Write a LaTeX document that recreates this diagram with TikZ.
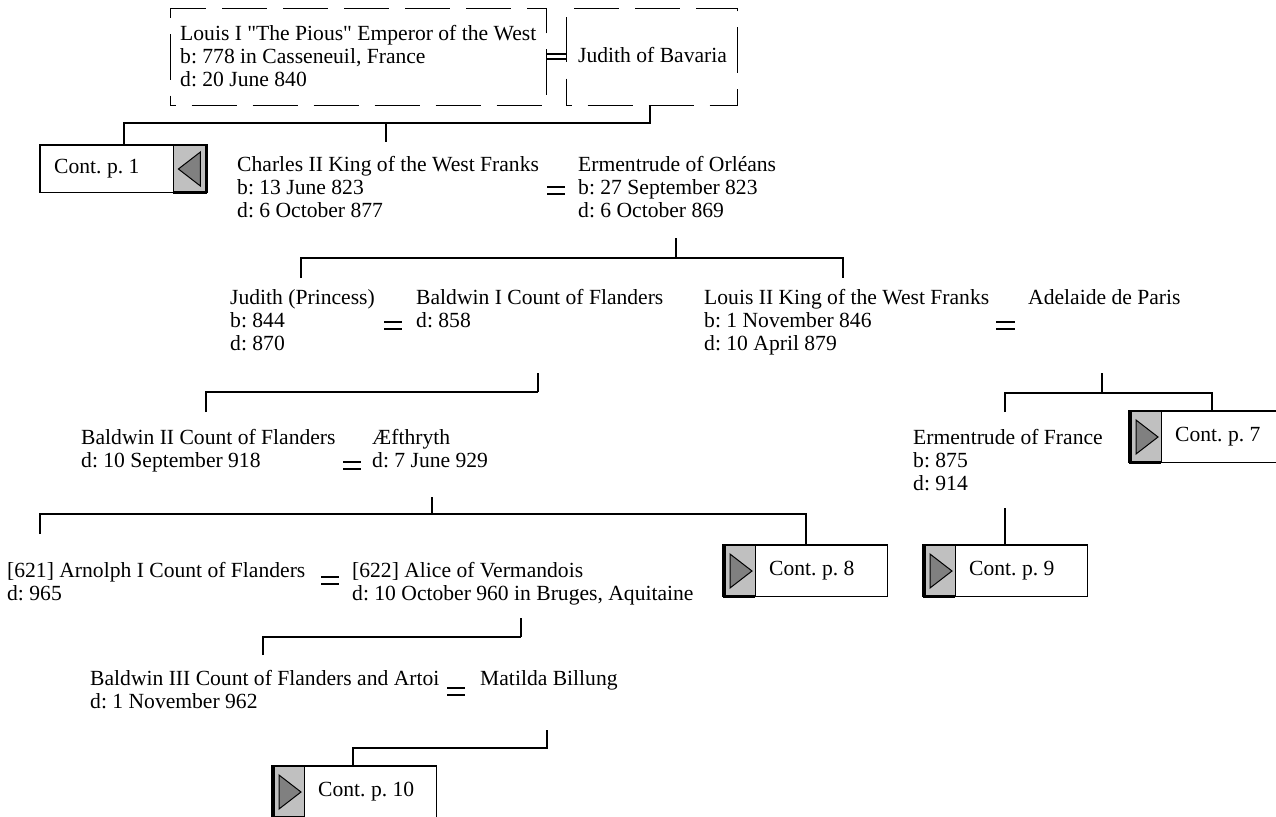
\documentclass[tikz,border=0pt]{standalone}
\usepackage{fontspec}
\setmainfont{Liberation Serif}
\usetikzlibrary{calc}
\newcommand\famtext{\fontsize{21.6}{23}\selectfont\frenchspacing}
\definecolor{greyfill}{HTML}{C0C0C0}
\definecolor{trifill}{HTML}{808080}
\tikzset{
  person/.style={anchor=north west, inner sep=0pt, align=left, font=\famtext},
  single/.style={anchor=base west, inner sep=0pt, font=\famtext},
  conn/.style={line width=1.6pt},
  marr/.style={line width=1.6pt},
  dashbox/.style={draw, line width=1pt, dash pattern=on 45pt off 16pt, dash phase=40pt},
  frame/.style={line width=1.2pt},
  tri/.style={fill=trifill, draw=black, line width=1pt, line join=miter},
}
% continuation box, grey part on the left, triangle pointing right
\newcommand\contR[4]{%
  \node[anchor=north west, minimum width=164pt, minimum height=51pt, inner sep=0pt] (#1) at (#2,#3) {};
  \fill[greyfill] (#1.north west) rectangle ($(#1.south west)+(32,0)$);
  \draw[frame] (#1.north west) rectangle (#1.south east);
  \draw[line width=1pt] ($(#1.north west)+(32,0)$) -- ($(#1.south west)+(32,0)$);
  \draw[line width=3pt] ($(#1.north west)+(1,0)$) -- ($(#1.south west)+(1,0)$);
  \draw[line width=2.2pt] (#1.south west) -- ($(#1.south west)+(32,0)$);
  \draw[tri] ($(#1.north west)+(7,9)$) -- ($(#1.north west)+(7,43)$) -- ($(#1.north west)+(29,26)$) -- cycle;
  \node[anchor=west, inner sep=0pt, font=\famtext] at ($(#1.west)+(46,0)$) {#4};
}
% continuation box, grey part on the right, triangle pointing left
\newcommand\contL[4]{%
  \node[anchor=north west, minimum width=167pt, minimum height=47pt, inner sep=0pt] (#1) at (#2,#3) {};
  \fill[greyfill] ($(#1.north east)+(-34,0)$) rectangle (#1.south east);
  \draw[frame] (#1.north west) rectangle (#1.south east);
  \draw[line width=1pt] ($(#1.north east)+(-34,0)$) -- ($(#1.south east)+(-34,0)$);
  \draw[line width=3pt] ($(#1.north east)+(-1,0)$) -- ($(#1.south east)+(-1,0)$);
  \draw[line width=2.2pt] ($(#1.south east)+(-34,0)$) -- (#1.south east);
  \draw[tri] ($(#1.north east)+(-7,7)$) -- ($(#1.north east)+(-7,41)$) -- ($(#1.north east)+(-29,24)$) -- cycle;
  \node[anchor=west, inner sep=0pt, font=\famtext] at ($(#1.west)+(14,0)$) {#4};
}
\newcommand\marriage[4]{%
  \draw[marr] (#1,#3) -- (#2,#3);
  \draw[marr] (#1,#4) -- (#2,#4);
}
\begin{document}
\begin{tikzpicture}[x=1pt,y=-1pt]
\useasboundingbox (0,0) rectangle (1276,816);
\clip (0,0) rectangle (1276,816);

% ---- generation 1
\node[dashbox, anchor=north west, minimum width=376pt, minimum height=97pt] (b1) at (170,8) {};
\node[dashbox, anchor=north west, minimum width=171pt, minimum height=97pt] (b2) at (566,8) {};
\node[person] (louis1) at (180,25) {Louis I \textquotedbl The Pious\textquotedbl{} Emperor of the West\\b: 778 in Casseneuil, France\\d: 20 June 840};
\node[single] (judithB) at (578,63) {Judith of Bavaria};
\draw[line width=1.2pt] (546,54) -- (566,54);
\draw[line width=1.2pt] (546,59) -- (566,59);

% ---- generation 2
\contL{c1}{40}{145}{Cont. p. 1}
\node[person] (charles) at (237,156) {Charles II King of the West Franks\\b: 13 June 823\\d: 6 October 877};
\node[person] (ermO) at (578,156) {Ermentrude of Orléans\\b: 27 September 823\\d: 6 October 869};
\marriage{547}{565}{187}{194}

\coordinate (g1) at (650,123);
\draw[conn] (b2.south -| g1) -- (g1) -- (g1 -| c1.north) -- (c1.north);
\coordinate (g1c) at (386,123);
\draw[conn] (g1c) -- (386,142);

% ---- generation 3
\node[person] (judithP) at (230,289) {Judith (Princess)\\b: 844\\d: 870};
\node[person] (baldwin1) at (416,289) {Baldwin I Count of Flanders\\d: 858};
\marriage{384}{402}{322}{329}
\node[person] (louis2) at (704,289) {Louis II King of the West Franks\\b: 1 November 846\\d: 10 April 879};
\node[person] (adelaide) at (1028,289) {Adelaide de Paris};
\marriage{996}{1015}{322}{329}

\coordinate (g2) at (676,258);
\draw[conn] (676,238) -- (g2);
\draw[conn] (301,278) -- (301,258) -- (843,258) -- (843,278);

% ---- generation 4
\node[person] (baldwin2) at (81,429) {Baldwin II Count of Flanders\\d: 10 September 918};
\node[person] (aef) at (372,429) {Æfthryth\\d: 7 June 929};
\marriage{343}{361}{462}{469}
\node[person] (ermF) at (913,429) {Ermentrude of France\\b: 875\\d: 914};
\contR{c7}{1129}{411}{Cont. p. 7}

\draw[conn] (538,373) -- (538,392);
\draw[conn] (206,412) -- (206,392) -- (538,392);
\coordinate (g3) at (1102,393);
\draw[conn] (1102,373) -- (g3);
\coordinate (g3r) at (1212,393);
\draw[conn] (1005,412) -- (1005,393) -- (g3r) -- (g3r |- c7.north);

% ---- generation 5
\node[person] (arnolph) at (7,562) {[621] Arnolph I Count of Flanders\\d: 965};
\node[person] (alice) at (352,562) {[622] Alice of Vermandois\\d: 10 October 960 in Bruges, Aquitaine};
\marriage{321}{339}{577}{584}
\contR{c8}{723}{545}{Cont. p. 8}
\contR{c9}{923}{545}{Cont. p. 9}

\coordinate (g4) at (432,514);
\draw[conn] (432,497) -- (g4);
\draw[conn] (40,534) -- (40,514) -- (806,514) -- (806,545);
\coordinate (g4r) at (1005,508);
\draw[conn] (g4r) -- (g4r |- c9.north);

% ---- generation 6
\node[person] (baldwin3) at (90,670) {Baldwin III Count of Flanders and Artoi\\d: 1 November 962};
\node[person] (matilda) at (480,670) {Matilda Billung};
\marriage{447}{465}{688}{695}

\coordinate (g5) at (521,637);
\draw[conn] (521,618) -- (g5);
\draw[conn] (263,655) -- (263,637) -- (g5);

% ---- generation 7
\contR{c10}{272}{766}{Cont. p. 10}
\coordinate (g6) at (547,748);
\draw[conn] (547,730) -- (g6) -- (353,748) -- (353,766);
\end{tikzpicture}
\end{document}
